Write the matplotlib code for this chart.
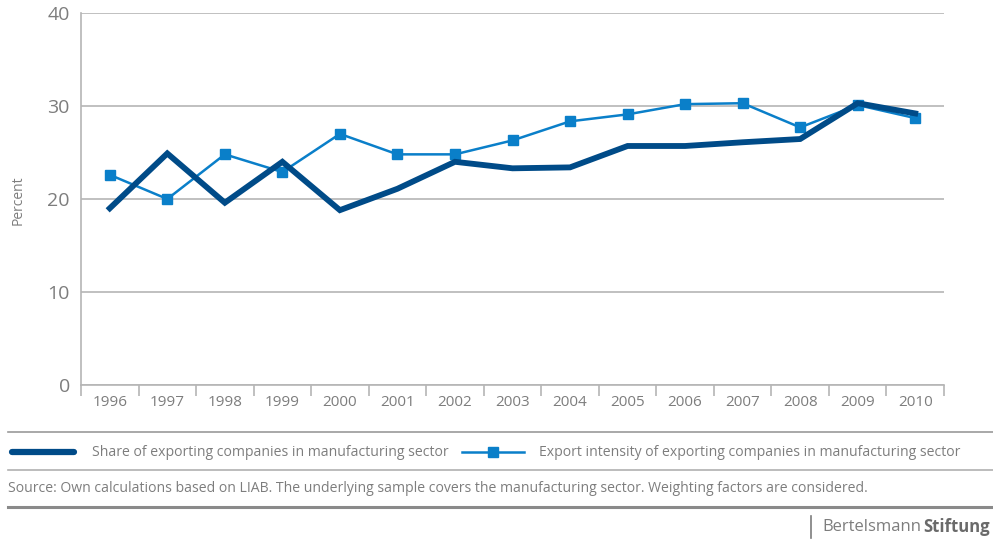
import matplotlib.pyplot as plt
from matplotlib.lines import Line2D
import numpy as np

plt.rcParams['font.family'] = ['Open Sans', 'DejaVu Sans']

years = ['1996', '1997', '1998', '1999', '2000', '2001', '2002', '2003',
         '2004', '2005', '2006', '2007', '2008', '2009', '2010']
share = [19.0, 24.9, 19.6, 24.0, 18.8, 21.1, 24.0, 23.3,
         23.4, 25.7, 25.7, 26.1, 26.45, 30.3, 29.2]
intensity = [22.6, 20.0, 24.8, 22.9, 27.0, 24.8, 24.8, 26.3,
             28.35, 29.1, 30.2, 30.3, 27.7, 30.1, 28.7]
yticks = [0, 10, 20, 30, 40]

dark = '#004b88'
light = '#0a7fc9'
grey = '#7d7d7d'
gridc = '#b5b5b5'

W, H = 993, 542
fig = plt.figure(figsize=(W / 100, H / 100), dpi=100)
ax = fig.add_axes([81 / W, 157 / H, 863 / W, 372 / H])


def fx(px):
    return px / W


def fy(py):
    return 1 - py / H


x = np.arange(len(years))
ax.plot(x, intensity, color=light, lw=1.8, marker='s', ms=7, zorder=3)
ax.plot(x, share, color=dark, lw=4.2, solid_joinstyle='miter', zorder=4)

ax.set_xlim(-0.5, len(years) - 0.5)
ax.set_ylim(0, 40)
ax.set_yticks(yticks)
ax.set_yticklabels([str(v) for v in yticks], fontsize=14, color=grey)
ax.tick_params(axis='y', length=0, pad=8)
ax.grid(axis='y', color=gridc, lw=1.2)
ax.set_axisbelow(True)

ax.set_xticks(x)
ax.set_xticklabels(years, fontsize=11, color=grey)
ax.set_xticks(np.arange(-0.5, len(years), 1), minor=True)
ax.tick_params(axis='x', which='major', length=0, pad=7)
ax.tick_params(axis='x', which='minor', length=8, color=gridc, width=1.2)

for s in ['top', 'right']:
    ax.spines[s].set_visible(False)
for s in ['left', 'bottom']:
    ax.spines[s].set_color(gridc)
    ax.spines[s].set_linewidth(1.2)

fig.text(fx(18), fy(200), 'Percent', rotation=90, fontsize=10,
         color=grey, ha='center', va='center')

# rules around the legend and source note
for yy, lw, c in [(432, 1.2, '#9a9a9a'), (470, 1.2, '#b0b0b0'), (507, 2.2, '#8a8a8a')]:
    fig.add_artist(Line2D([fx(8), 1], [fy(yy)] * 2, color=c, lw=lw))

# legend, laid out by hand
fig.add_artist(Line2D([fx(12), fx(74)], [fy(452)] * 2, color=dark, lw=4.5,
                      solid_capstyle='round'))
fig.text(fx(92), fy(452), 'Share of exporting companies in manufacturing sector',
         fontsize=10.1, color=grey, ha='left', va='center')
fig.add_artist(Line2D([fx(462), fx(524)], [fy(452)] * 2, color=light, lw=1.8))
fig.add_artist(Line2D([fx(493)], [fy(452)], color=light, marker='s', ms=7))
fig.text(fx(539), fy(452),
         'Export intensity of exporting companies in manufacturing sector',
         fontsize=10.1, color=grey, ha='left', va='center')

fig.text(fx(8), fy(489),
         'Source: Own calculations based on LIAB. The underlying sample covers the '
         'manufacturing sector. Weighting factors are considered.',
         fontsize=10.1, color=grey, ha='left', va='center')

fig.add_artist(Line2D([fx(811)] * 2, [fy(538), fy(516)], color=grey, lw=1.2))
brand = fig.text(fx(990), fy(527), 'Bertelsmann', fontsize=12, color=grey,
                 ha='right', va='center')
t = fig.text(fx(990), fy(527), 'Stiftung', fontsize=12, color='#6a6a6a',
             fontweight='bold', ha='right', va='center')
fig.canvas.draw()
bb = t.get_window_extent()
brand.set_position((bb.x0 / fig.bbox.width - 0.002, fy(527)))

fig.savefig('out.png', dpi=100)
